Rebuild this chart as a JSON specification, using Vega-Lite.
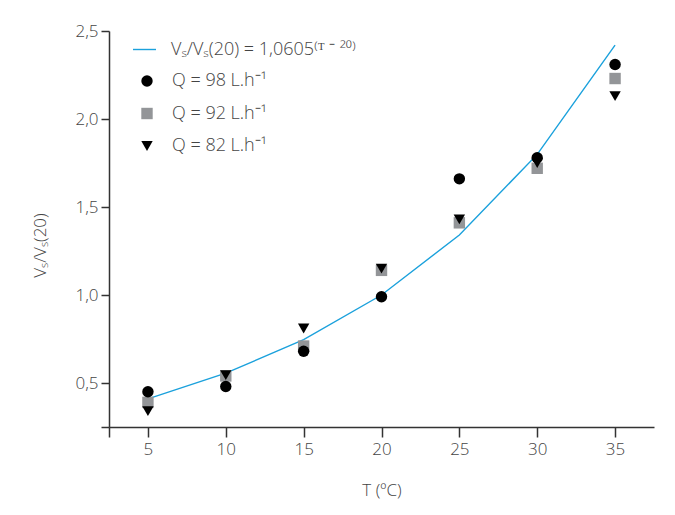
{
  "$schema": "https://vega.github.io/schema/vega-lite/v6.json",
  "width": 545,
  "height": 396,
  "autosize": "none",
  "padding": {"left": 109, "top": 31, "right": 21, "bottom": 88},
  "background": "white",
  "config": {
    "view": {"stroke": null},
    "font": "Open Sans",
    "axis": {
      "grid": false,
      "domainColor": "#333333",
      "domainWidth": 1.5,
      "tickColor": "#333333",
      "tickWidth": 1.5,
      "labelFontSize": 17,
      "labelColor": "#444444",
      "labelFont": "Open Sans",
      "labelFontWeight": 300,
      "titleFontSize": 17,
      "titleFontWeight": 300,
      "titleColor": "#444444",
      "titleFont": "Open Sans"
    },
    "legend": {
      "labelFontSize": 18,
      "labelColor": "#444444",
      "labelFont": "Open Sans",
      "labelFontWeight": 300,
      "labelLimit": 500
    }
  },
  "datasets": {
    "model": [
      {"T": 5, "ratio": 0.41, "series": "Vₛ/Vₛ(20) = 1,0605⁽ᵀ ⁻ ²⁰⁾"},
      {"T": 10, "ratio": 0.556, "series": "Vₛ/Vₛ(20) = 1,0605⁽ᵀ ⁻ ²⁰⁾"},
      {"T": 15, "ratio": 0.746, "series": "Vₛ/Vₛ(20) = 1,0605⁽ᵀ ⁻ ²⁰⁾"},
      {"T": 20, "ratio": 1.0, "series": "Vₛ/Vₛ(20) = 1,0605⁽ᵀ ⁻ ²⁰⁾"},
      {"T": 25, "ratio": 1.341, "series": "Vₛ/Vₛ(20) = 1,0605⁽ᵀ ⁻ ²⁰⁾"},
      {"T": 30, "ratio": 1.799, "series": "Vₛ/Vₛ(20) = 1,0605⁽ᵀ ⁻ ²⁰⁾"},
      {"T": 35, "ratio": 2.42, "series": "Vₛ/Vₛ(20) = 1,0605⁽ᵀ ⁻ ²⁰⁾"}
    ],
    "obs": [
      {"T": 5, "ratio": 0.39, "series": "Q = 92 L.h⁻¹"},
      {"T": 10, "ratio": 0.54, "series": "Q = 92 L.h⁻¹"},
      {"T": 15, "ratio": 0.71, "series": "Q = 92 L.h⁻¹"},
      {"T": 20, "ratio": 1.14, "series": "Q = 92 L.h⁻¹"},
      {"T": 25, "ratio": 1.41, "series": "Q = 92 L.h⁻¹"},
      {"T": 30, "ratio": 1.72, "series": "Q = 92 L.h⁻¹"},
      {"T": 35, "ratio": 2.23, "series": "Q = 92 L.h⁻¹"},
      {"T": 5, "ratio": 0.45, "series": "Q = 98 L.h⁻¹"},
      {"T": 10, "ratio": 0.48, "series": "Q = 98 L.h⁻¹"},
      {"T": 15, "ratio": 0.68, "series": "Q = 98 L.h⁻¹"},
      {"T": 20, "ratio": 0.99, "series": "Q = 98 L.h⁻¹"},
      {"T": 25, "ratio": 1.66, "series": "Q = 98 L.h⁻¹"},
      {"T": 30, "ratio": 1.78, "series": "Q = 98 L.h⁻¹"},
      {"T": 35, "ratio": 2.31, "series": "Q = 98 L.h⁻¹"},
      {"T": 5, "ratio": 0.34, "series": "Q = 82 L.h⁻¹"},
      {"T": 10, "ratio": 0.545, "series": "Q = 82 L.h⁻¹"},
      {"T": 15, "ratio": 0.81, "series": "Q = 82 L.h⁻¹"},
      {"T": 20, "ratio": 1.15, "series": "Q = 82 L.h⁻¹"},
      {"T": 25, "ratio": 1.43, "series": "Q = 82 L.h⁻¹"},
      {"T": 30, "ratio": 1.75, "series": "Q = 82 L.h⁻¹"},
      {"T": 35, "ratio": 2.13, "series": "Q = 82 L.h⁻¹"}
    ]
  },
  "layer": [
    {
      "data": {"name": "model"},
      "mark": {"type": "line", "strokeWidth": 1.4},
      "encoding": {
        "x": {
          "field": "T", "type": "quantitative",
          "scale": {"domain": [2.5, 37.5], "nice": false, "zero": false},
          "axis": {
            "values": [2.5, 5, 10, 15, 20, 25, 30, 35],
            "labelExpr": "datum.value == 2.5 ? '' : datum.label",
            "tickSize": 10,
            "labelPadding": 4,
            "title": "T (ºC)",
            "titlePadding": 25
          }
        },
        "y": {
          "field": "ratio", "type": "quantitative",
          "scale": {"domain": [0.25, 2.5], "nice": false, "zero": false},
          "axis": {
            "values": [0.25, 0.5, 1, 1.5, 2, 2.5],
            "labelExpr": "datum.value == 0.25 ? '' : replace(format(datum.value, '.1f'), '.', ',')",
            "tickSize": 8,
            "labelPadding": 3,
            "title": "Vₛ/Vₛ(20)",
            "titleX": -69,
            "titleY": 214,
            "titleAngle": -90,
            "titleAlign": "center",
            "titleBaseline": "middle"
          }
        },
        "stroke": {
          "field": "series", "type": "nominal",
          "scale": {"range": ["#1ba1dc"]},
          "legend": {
            "orient": "none",
            "legendX": 23,
            "legendY": 6,
            "title": null,
            "symbolType": "stroke",
            "symbolSize": 529,
            "symbolStrokeWidth": 1.4,
            "labelOffset": 14
          }
        }
      }
    },
    {
      "data": {"name": "obs"},
      "mark": {"type": "point", "filled": true, "size": 130, "opacity": 1},
      "encoding": {
        "x": {"field": "T", "type": "quantitative"},
        "y": {"field": "ratio", "type": "quantitative"},
        "color": {
          "field": "series", "type": "nominal",
          "scale": {
            "domain": ["Q = 98 L.h⁻¹", "Q = 92 L.h⁻¹", "Q = 82 L.h⁻¹"],
            "range": ["#000000", "#939598", "#000000"]
          },
          "legend": {
            "orient": "none",
            "legendX": 29,
            "legendY": 41,
            "title": null,
            "symbolSize": 130,
            "labelOffset": 16,
            "rowPadding": 14.5
          }
        },
        "shape": {
          "field": "series", "type": "nominal",
          "scale": {
            "domain": ["Q = 98 L.h⁻¹", "Q = 92 L.h⁻¹", "Q = 82 L.h⁻¹"],
            "range": ["circle", "square", "triangle-down"]
          }
        }
      }
    }
  ]
}
